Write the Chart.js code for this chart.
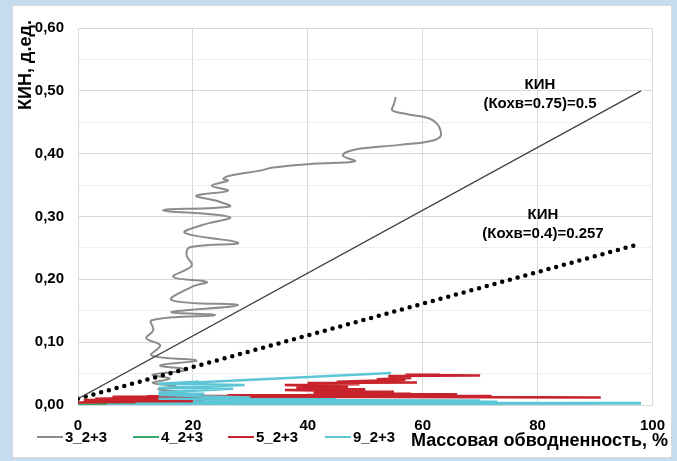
<!DOCTYPE html>
<html>
<head>
<meta charset="utf-8">
<script src="https://cdn.jsdelivr.net/npm/chart.js"></script>
<style>
html, body { margin: 0; padding: 0; background: #c5dcf0; }
#wrap { width: 677px; height: 461px; }
</style>
</head>
<body>
<div id="wrap"><canvas id="lineChart" width="677" height="461"></canvas></div>
<script>
// series 3_2+3
var well3X = [17, 19, 15, 18, 14, 17, 13, 16, 13, 18.9, 14.3, 20.6, 12.8, 14.3, 11.9, 13.1, 12.8, 23.8, 16.3, 27.9, 16.3, 19.8, 22.4, 16.6, 19.8, 18.9, 19.5, 27.9, 18.6, 21.5, 26.4, 14.8, 26.4, 24.1, 20.6, 26.1, 23.3, 26.1, 25.3, 26.4, 31.7, 34.0, 40.9, 48.2, 46.1, 47.9, 56.0, 61.8, 63.2, 61.8, 57.2, 54.7, 55.0, 55.3];
var well3Y = [0.005, 0.010, 0.015, 0.020, 0.025, 0.030, 0.035, 0.042, 0.048, 0.056, 0.063, 0.071, 0.079, 0.095, 0.106, 0.119, 0.135, 0.143, 0.148, 0.159, 0.167, 0.188, 0.196, 0.204, 0.222, 0.238, 0.251, 0.258, 0.274, 0.286, 0.299, 0.310, 0.316, 0.325, 0.333, 0.341, 0.349, 0.357, 0.360, 0.365, 0.373, 0.378, 0.384, 0.388, 0.397, 0.406, 0.414, 0.421, 0.431, 0.453, 0.463, 0.469, 0.479, 0.490];

// series 4_2+3
var well4X = [0, 15, 3, 35, 10, 25];
var well4Y = [0.001, 0.002, 0.003, 0.004, 0.004, 0.005];

// series 5_2+3
var well5X = [0, 22, 1, 24, 3, 16, 6, 50, 12, 70, 20, 65, 26, 62, 30, 91, 50, 72, 40, 66, 45, 58, 41, 55, 36, 50, 38, 47, 36, 49, 40, 59, 45, 57, 52, 58, 54, 70, 57, 63];
var well5Y = [0.004, 0.006, 0.008, 0.011, 0.010, 0.012, 0.013, 0.013, 0.014, 0.014, 0.0145, 0.015, 0.0155, 0.016, 0.013, 0.012, 0.0135, 0.0145, 0.016, 0.017, 0.0175, 0.018, 0.019, 0.021, 0.024, 0.025, 0.027, 0.029, 0.032, 0.033, 0.035, 0.036, 0.037, 0.040, 0.041, 0.043, 0.046, 0.047, 0.048, 0.048];

// series 9_2+3
var well9X = [5, 60, 98, 10, 98, 30, 73, 20, 70, 25, 45, 14, 30, 14, 22, 14, 27, 14, 29, 14, 21, 14, 54.5];
var well9Y = [0.000, 0.001, 0.001, 0.002, 0.003, 0.004, 0.005, 0.006, 0.007, 0.008, 0.009, 0.010, 0.012, 0.016, 0.018, 0.020, 0.026, 0.027, 0.032, 0.034, 0.037, 0.033, 0.051];

// KIN reference lines
var kin075X = [0, 98];
var kin075Y = [0.01, 0.5];
var kin04X = [0, 98];
var kin04Y = [0.01, 0.257];

var seriesNames = ['3_2+3', '4_2+3', '5_2+3', '9_2+3'];
var seriesColors = ['#8c8c8c', '#3aa76d', '#c8232c', '#5cc6d6'];
var xTitle = 'Массовая обводненность, %';
var yTitle = 'КИН, д.ед.';

function toPoints(xs, ys){
    var pts = [];
    for (var i = 0; i < xs.length; i++) {
        pts.push({x: xs[i], y: ys[i]});
    }
    return pts;
}

function isMajor(v){
    return Math.round(v * 100) % 10 === 0;
}

var framePlugin = {
    id: 'frame',
    beforeDraw: function(chart){
        var c = chart.ctx;
        c.save();
        c.fillStyle = '#c5dcf0';
        c.fillRect(0, 0, 677, 461);
        c.fillStyle = '#ffffff';
        c.fillRect(12, 5, 660, 453);
        c.strokeStyle = '#d9d9d9';
        c.lineWidth = 1;
        c.strokeRect(12.5, 5.5, 659, 452);
        c.restore();
    },
    afterDraw: function(chart){
        var c = chart.ctx;
        c.save();
        c.fillStyle = '#000';
        // axis titles
        c.font = 'bold 18px "Liberation Sans", Arial, sans-serif';
        c.textAlign = 'right';
        c.textBaseline = 'middle';
        c.fillText(xTitle, 668, 441);
        c.translate(26, 65);
        c.rotate(-Math.PI / 2);
        c.textAlign = 'center';
        c.fillText(yTitle, 0, 0);
        c.setTransform(1, 0, 0, 1, 0, 0);

        // KIN labels
        c.font = 'bold 15px "Liberation Sans", Arial, sans-serif';
        c.textAlign = 'center';
        c.fillText('КИН', 540, 85);
        c.fillText('(Кохв=0.75)=0.5', 540, 104);
        c.fillText('КИН', 543, 215);
        c.fillText('(Кохв=0.4)=0.257', 543, 234);

        //-------------
        //- LEGEND -
        //-------------
        var legendX = [37, 133, 228, 325];
        c.font = 'bold 15px "Liberation Sans", Arial, sans-serif';
        c.textAlign = 'left';
        for (var i = 0; i < seriesNames.length; i++) {
            c.strokeStyle = seriesColors[i];
            c.lineWidth = 2;
            c.beginPath();
            c.moveTo(legendX[i], 437);
            c.lineTo(legendX[i] + 26, 437);
            c.stroke();
            c.fillText(seriesNames[i], legendX[i] + 28, 438);
        }
        c.restore();
    }
};

var lineDatasets = [
    {label: 'kin075', data: toPoints(kin075X, kin075Y), borderColor: '#404040', borderWidth: 1.3, order: 0},
    {label: 'kin04', data: toPoints(kin04X, kin04Y), borderColor: '#000000', borderWidth: 4.5, borderDash: [0, 8], borderCapStyle: 'round', order: 0},
    {label: seriesNames[3], data: toPoints(well9X, well9Y), borderColor: seriesColors[3], borderWidth: 2.5, order: 1},
    {label: seriesNames[2], data: toPoints(well5X, well5Y), borderColor: seriesColors[2], borderWidth: 2.5, order: 2},
    {label: seriesNames[1], data: toPoints(well4X, well4Y), borderColor: seriesColors[1], borderWidth: 2, order: 3},
    {label: seriesNames[0], data: toPoints(well3X, well3Y), borderColor: seriesColors[0], borderWidth: 2, tension: 0.4, order: 4}
];

var lineChartCanvas = document.getElementById('lineChart').getContext('2d');
var lineChart = new Chart(lineChartCanvas, {
    type: 'scatter',
    data: {datasets: lineDatasets},
    options: {
        responsive: false,
        animation: false,
        showLine: true,
        elements: {point: {radius: 0}, line: {fill: false}},
        layout: {padding: {left: 0, right: 24, top: 28, bottom: 0}},
        plugins: {legend: {display: false}, tooltip: {enabled: false}},
        scales: {
            x: {
                min: 0, max: 100,
                ticks: {stepSize: 20, padding: 12, color: '#000', font: {family: '"Liberation Sans", Arial, sans-serif', size: 15, weight: 'bold'}},
                grid: {color: '#d9d9d9', drawTicks: false},
                border: {color: '#d9d9d9'},
                afterFit: function(s){ s.height = 56; }
            },
            y: {
                min: 0, max: 0.6,
                ticks: {
                    stepSize: 0.05, padding: 14, color: '#000',
                    font: {family: '"Liberation Sans", Arial, sans-serif', size: 15, weight: 'bold'},
                    callback: function(v){ return isMajor(v) ? v.toFixed(2).replace('.', ',') : ''; }
                },
                grid: {
                    drawTicks: false,
                    color: function(ctx){ return isMajor(ctx.tick.value) ? '#d9d9d9' : '#efefef'; }
                },
                border: {color: '#d9d9d9'},
                afterFit: function(s){ s.width = 78; }
            }
        }
    },
    plugins: [framePlugin]
});
</script>
</body>
</html>
